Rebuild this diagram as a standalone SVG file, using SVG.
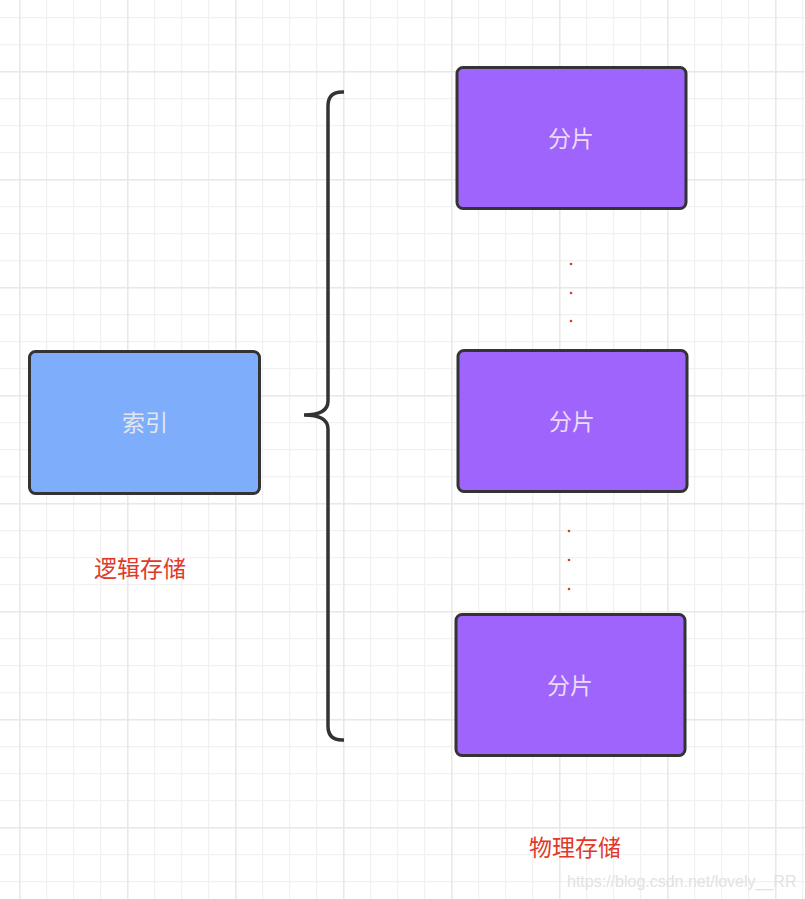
<svg xmlns="http://www.w3.org/2000/svg" width="805" height="899" viewBox="0 0 805 899">
<defs>
<pattern id="g" x="19" y="17" width="27" height="27" patternUnits="userSpaceOnUse">
<path d="M0 0V27M0 0H27" stroke="#f1f1f1" stroke-width="2.5" fill="none"/>
</pattern>
<pattern id="G" x="19" y="71" width="108" height="108" patternUnits="userSpaceOnUse">
<path d="M0 0V108M0 0H108" stroke="#e8e8e8" stroke-width="3" fill="none"/>
</pattern>
</defs>
<style>
.box{stroke:#333;stroke-width:3}
.p{fill:#9f64fb}
.b{fill:#7eadfc}
.t{font-family:"Noto Sans CJK SC","Liberation Sans",sans-serif;font-size:23px;text-anchor:middle;dominant-baseline:central}
.lab{font-family:"Noto Sans CJK SC","Liberation Sans",sans-serif;font-size:23px;fill:#e0392a;text-anchor:middle;dominant-baseline:central}
.dot{fill:#d83a2e}
</style>
<rect width="805" height="899" fill="#fff"/>
<rect width="805" height="899" fill="url(#g)"/>
<rect width="805" height="899" fill="url(#G)"/>
<g id="connectors">
<path d="M344 92H342Q328 92 328 106V401Q328 415 304 415Q328 415 328 429V726Q328 740 342 740H344" fill="none" stroke="#333" stroke-width="3.5"/>
</g>
<g id="index">
<rect class="box b" x="29.5" y="351.5" width="230" height="142" rx="6"/>
<text class="t" x="145" y="421" fill="#e3e6ee">索引</text>
</g>
<g id="shard1">
<rect class="box p" x="457" y="67.5" width="229" height="141" rx="6"/>
<text class="t" x="571" y="137" fill="#eadcf7">分片</text>
</g>
<g id="shard2">
<rect class="box p" x="458" y="350.5" width="229" height="141" rx="6"/>
<text class="t" x="572" y="420" fill="#eadcf7">分片</text>
</g>
<g id="shard3">
<rect class="box p" x="456" y="614.5" width="229" height="141" rx="6"/>
<text class="t" x="570" y="684" fill="#eadcf7">分片</text>
</g>
<g id="dots">
<circle class="dot" cx="571" cy="264" r="1.3"/>
<circle class="dot" cx="571" cy="293" r="1.3"/>
<circle class="dot" cx="571" cy="321" r="1.3"/>
<circle class="dot" cx="569" cy="531" r="1.3"/>
<circle class="dot" cx="569" cy="560" r="1.3"/>
<circle class="dot" cx="569" cy="589" r="1.3"/>
</g>
<g id="labels">
<text class="lab" x="140" y="567">逻辑存储</text>
<text class="lab" x="575" y="846">物理存储</text>
<text x="567" y="887" font-family="Liberation Sans, sans-serif" font-size="16" fill="#e2e2e2">https://blog.csdn.net/lovely__RR</text>
</g>
</svg>
